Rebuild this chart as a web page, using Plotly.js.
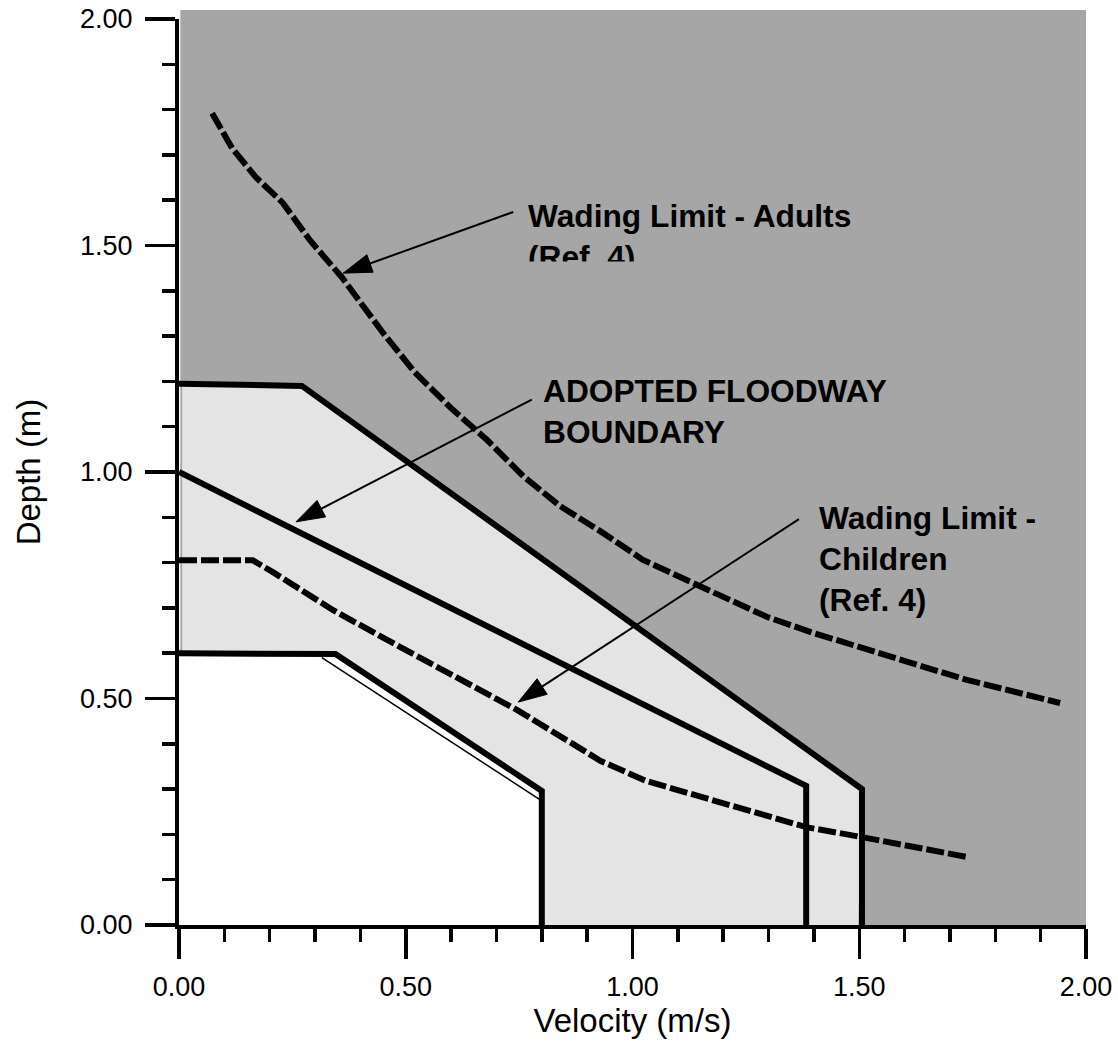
<!DOCTYPE html>
<html><head><meta charset="utf-8">
<script src="https://cdn.plot.ly/plotly-3.0.1.min.js"></script>
<style>html,body{margin:0;padding:0;background:#fff}</style>
</head><body><div id="chart" style="width:1118px;height:1041px"></div>
<script>
// Axis ticks
const tickVals = [0, 0.5, 1.0, 1.5, 2.0];
const tickText = ['0.00', '0.50', '1.00', '1.50', '2.00'];

// Outer hazard boundary (thick solid)
const outerV = [0.0, 0.271, 1.506, 1.506];
const outerD = [1.195, 1.190, 0.300, 0.0];
// Adopted floodway boundary (thick solid)
const floodV = [0.0, 1.383, 1.383];
const floodD = [1.000, 0.307, 0.0];
// Lower boundary (thick solid)
const lowerV = [0.0, 0.345, 0.800, 0.800];
const lowerD = [0.600, 0.598, 0.296, 0.0];
// Thin inner edge of the white zone
const innerV = [0.315, 0.794];
const innerD = [0.590, 0.278];
// Light grey zone polygon
const zoneV = [0.007, 0.007, 0.271, 1.506, 1.498, 0.007];
const zoneD = [0.0, 1.190, 1.190, 0.300, 0.0, 0.0];
// White zone polygon
const safeV = [0.0, 0.0, 0.345, 0.800, 0.800, 0.0];
const safeD = [0.0, 0.600, 0.598, 0.296, 0.0, 0.0];
// Wading limit - adults (dashed)
const adultV = [0.073, 0.117, 0.170, 0.229, 0.290, 0.359, 0.450, 0.520, 0.600, 0.680, 0.760, 0.840, 0.928, 1.023, 1.142, 1.297, 1.398, 1.590, 1.737, 1.943];
const adultD = [1.792, 1.715, 1.650, 1.594, 1.510, 1.430, 1.307, 1.220, 1.141, 1.070, 0.990, 0.925, 0.870, 0.806, 0.751, 0.680, 0.645, 0.585, 0.541, 0.490];
// Wading limit - children (dashed)
const childV = [0.0, 0.163, 0.207, 0.340, 0.487, 0.569, 0.745, 0.891, 0.930, 1.030, 1.149, 1.383, 1.506, 1.738];
const childD = [0.805, 0.805, 0.779, 0.695, 0.614, 0.570, 0.475, 0.386, 0.362, 0.318, 0.283, 0.216, 0.194, 0.150];
// Leader arrows [tail, tip]
const adultArrowV = [0.737, 0.362];
const adultArrowD = [1.574, 1.439];
const floodArrowV = [0.778, 0.258];
const floodArrowD = [1.160, 0.890];
const childArrowV = [1.367, 0.748];
const childArrowD = [0.896, 0.492];

const DARK = '#a6a6a6';
const LIGHT = '#e4e4e4';
const FONT = 'Liberation Sans, Arial, sans-serif';

function solid(x, y, w) {
  return {x: x, y: y, type: 'scatter', mode: 'lines', line: {color: '#000', width: w}, hoverinfo: 'skip', showlegend: false};
}
function dashed(x, y) {
  return {x: x, y: y, type: 'scatter', mode: 'lines', line: {color: '#000', width: 6, dash: '18px,4px'}, hoverinfo: 'skip', showlegend: false};
}
function poly(x, y, c) {
  return {x: x, y: y, type: 'scatter', mode: 'lines', fill: 'toself', fillcolor: c, line: {width: 0, color: c}, hoverinfo: 'skip', showlegend: false};
}
function arrow(x, y) {
  return {x: x, y: y, type: 'scatter', mode: 'lines+markers', line: {color: '#000', width: 2},
    marker: {symbol: ['circle', 'arrow'], size: [0, 30], angleref: 'previous', color: '#000', opacity: 1, line: {width: 1, color: '#000'}},
    hoverinfo: 'skip', showlegend: false, cliponaxis: false};
}

const data = [
  poly(zoneV, zoneD, LIGHT),
  poly(safeV, safeD, '#ffffff'),
  solid(innerV, innerD, 1.5),
  solid(lowerV, lowerD, 6),
  solid(floodV, floodD, 6),
  solid(outerV, outerD, 6),
  dashed(childV, childD),
  dashed(adultV, adultD),
  arrow(adultArrowV, adultArrowD),
  arrow(floodArrowV, floodArrowD),
  arrow(childArrowV, childArrowD)
];

const minorTicks = {tickmode: 'linear', tick0: 0, dtick: 0.1, ticks: 'outside', ticklen: 13, tickwidth: 3.5, tickcolor: '#000', showgrid: false};

const labelFont = {family: FONT, size: 31.7, color: '#000'};

const layout = {
  width: 1118, height: 1041,
  margin: {l: 179, r: 32, t: 19, b: 116, pad: 0},
  paper_bgcolor: '#ffffff',
  plot_bgcolor: '#ffffff',
  font: {family: FONT, color: '#000'},
  showlegend: false,
  xaxis: {
    range: [0, 2], tickmode: 'array', tickvals: tickVals, ticktext: tickText,
    ticks: 'outside', ticklen: 30, tickwidth: 3.5, tickcolor: '#000', ticklabelstandoff: 5,
    showline: true, linewidth: 4, linecolor: '#000', showgrid: false, zeroline: false,
    tickfont: {family: FONT, size: 27, color: '#000'},
    title: {text: 'Velocity (m/s)', font: {family: FONT, size: 33, color: '#000'}, standoff: 8},
    minor: minorTicks, fixedrange: true
  },
  yaxis: {
    range: [0, 2], tickmode: 'array', tickvals: tickVals, ticktext: tickText,
    ticks: 'outside', ticklen: 30, tickwidth: 3.5, tickcolor: '#000', ticklabelstandoff: 7,
    showline: true, linewidth: 4, linecolor: '#000', showgrid: false, zeroline: false,
    tickfont: {family: FONT, size: 27, color: '#000'},
    title: {text: 'Depth (m)', font: {family: FONT, size: 33, color: '#000'}, standoff: 30},
    minor: minorTicks, fixedrange: true
  },
  shapes: [
    {type: 'rect', xref: 'paper', yref: 'paper', x0: 0.0015, x1: 1.0, y0: 0, y1: 1.01, fillcolor: DARK, line: {width: 0}, layer: 'below'}
  ],
  annotations: [
    {xref: 'x', yref: 'y', x: 0.765, y: 1.609, xanchor: 'left', yanchor: 'top', align: 'left', showarrow: false,
      text: '<b>Wading Limit - Adults</b><br><b>(Ref. 4)</b>', font: labelFont},
    {xref: 'x', yref: 'y', x: 0.755, y: 1.466, xanchor: 'left', yanchor: 'top', showarrow: false,
      text: '&nbsp;', width: 160, height: 30, bgcolor: DARK, borderpad: 0, font: {size: 10}},
    {xref: 'x', yref: 'y', x: 0.798, y: 1.223, xanchor: 'left', yanchor: 'top', align: 'left', showarrow: false,
      text: '<b>ADOPTED FLOODWAY</b><br><b>BOUNDARY</b>', font: labelFont},
    {xref: 'x', yref: 'y', x: 1.407, y: 0.943, xanchor: 'left', yanchor: 'top', align: 'left', showarrow: false,
      text: '<b>Wading Limit -</b><br><b>Children</b><br><b>(Ref. 4)</b>', font: labelFont}
  ]
};

Plotly.newPlot('chart', data, layout, {staticPlot: true, displayModeBar: false});
</script>
</body></html>
